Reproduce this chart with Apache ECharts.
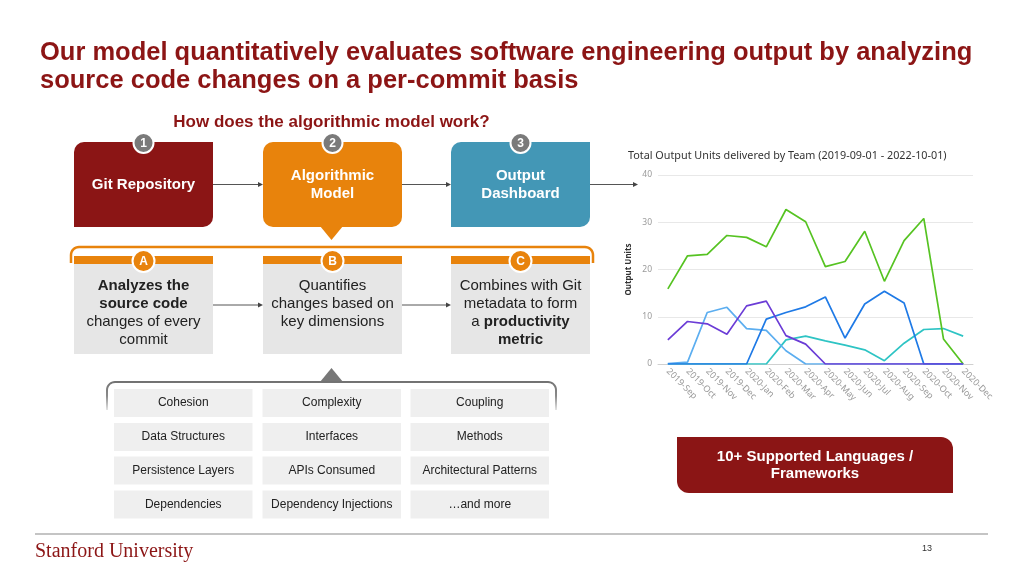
<!DOCTYPE html>
<html>
<head>
<meta charset="utf-8">
<script src="https://cdn.jsdelivr.net/npm/echarts@6/dist/echarts.min.js"></script>
<style>
html,body{margin:0;padding:0;background:#fff;}
#main{width:1024px;height:576px;}
</style>
</head>
<body>
<div id="main"></div>
<script>
// ---- Data ----
var months = ['2019-Sep','2019-Oct','2019-Nov','2019-Dec','2020-Jan','2020-Feb','2020-Mar','2020-Apr','2020-May','2020-Jun','2020-Jul','2020-Aug','2020-Sep','2020-Oct','2020-Nov','2020-Dec'];
var teamGreen = [15.9,22.9,23.2,27.2,26.8,24.8,32.7,30.1,20.6,21.7,28.1,17.5,26.1,30.8,5.3,0];
var teamBlue = [0,0,0,0,0,9.5,10.9,12.1,14.2,5.5,12.7,15.4,12.9,0,0,0];
var teamLightBlue = [0.1,0.4,10.9,12.0,7.5,7.1,2.8,0,0,0,0,0,0,0,0,0];
var teamPurple = [5.1,9.0,8.5,6.3,12.3,13.3,6.0,4.2,0,0,0,0,0,0,0,0];
var teamTeal = [0,0,0,0,0,0,5.1,5.9,4.9,4.0,3.0,0.7,4.4,7.3,7.5,5.9];
var yTicks = [0,10,20,30,40];

var slideTitle = ['Our model quantitatively evaluates software engineering output by analyzing','source code changes on a per-commit basis'];
var subTitle = 'How does the algorithmic model work?';
var stepLabels = [['Git Repository'],['Algorithmic','Model'],['Output','Dashboard']];
var dimensions = [['Cohesion','Complexity','Coupling'],['Data Structures','Interfaces','Methods'],['Persistence Layers','APIs Consumed','Architectural Patterns'],['Dependencies','Dependency Injections','\u2026and more']];

// ---- Graphics helpers ----
var SANS = 'Liberation Sans, Arial, sans-serif';
var RED = '#8b1515', ORANGE = '#e8830c', TEAL = '#4397b6';
var G = [];
function rect(x,y,w,h,fill,r){G.push({type:'rect',shape:{x:x,y:y,width:w,height:h,r:r||0},style:{fill:fill},silent:true});}
function txt(x,y,t,size,color,weight,align,family){G.push({type:'text',x:x,y:y,style:{text:t,fontSize:size,fill:color,fontWeight:weight||'normal',fontFamily:family||SANS,align:align||'center',verticalAlign:'middle'},silent:true});}
function rich(x,y,t,r){G.push({type:'text',x:x,y:y,style:{text:t,rich:r,align:'center',verticalAlign:'middle'},silent:true});}
function arrow(x1,x2,y){
  G.push({type:'line',shape:{x1:x1,y1:y,x2:x2-4,y2:y},style:{stroke:'#555',lineWidth:1},silent:true});
  G.push({type:'polygon',shape:{points:[[x2,y],[x2-5,y-2.5],[x2-5,y+2.5]]},style:{fill:'#444'},silent:true});
}
function badge(cx,cy,r,fill,t){
  G.push({type:'circle',shape:{cx:cx,cy:cy,r:r},style:{fill:fill,stroke:'#fff',lineWidth:2},silent:true});
  txt(cx,cy+0.5,t,12,'#fff','bold');
}
function arcPts(cx,cy,r,a0,a1){var p=[];for(var i=0;i<=8;i++){var a=a0+(a1-a0)*i/8;p.push([cx+r*Math.cos(a),cy+r*Math.sin(a)]);}return p;}
function bracket(x1,x2,yTop,yBot,r,stroke,lw){
  var pts=[[x1,yBot]];
  pts=pts.concat(arcPts(x1+r,yTop+r,r,Math.PI,1.5*Math.PI));
  pts=pts.concat(arcPts(x2-r,yTop+r,r,1.5*Math.PI,2*Math.PI));
  pts.push([x2,yBot]);
  G.push({type:'polyline',shape:{points:pts},style:{stroke:stroke,lineWidth:lw,fill:null},silent:true});
}

// Title
txt(40,53,slideTitle[0],25.5,'#8c1515','bold','left');
txt(40,81,slideTitle[1],25.5,'#8c1515','bold','left');
txt(331.5,122,subTitle,17,'#8c1515','bold');

// Top row boxes
var colX = [74,263,451], colW = 139;
rect(colX[0],142,colW,85,RED,[10,0,10,0]);
rect(colX[1],142,colW,85,ORANGE,[10,10,10,10]);
G.push({type:'polygon',shape:{points:[[320,226],[343,226],[331.5,240]]},style:{fill:ORANGE},silent:true});
rect(colX[2],142,colW,85,TEAL,[10,0,10,0]);
for (var i=0;i<3;i++){
  var cx = colX[i]+colW/2, lines = stepLabels[i];
  if (lines.length===1) txt(cx,185,lines[0],15,'#fff','bold');
  else { txt(cx,176,lines[0],15,'#fff','bold'); txt(cx,193.5,lines[1],15,'#fff','bold'); }
  badge(cx,143,10,'#7a7a7a',String(i+1));
}
arrow(213,263,184.5); arrow(402,451,184.5); arrow(590,638,184.5);

// Orange bracket & A/B/C cells
bracket(71,593,247,263,8,ORANGE,2.5);
var letters=['A','B','C'];
for (var j=0;j<3;j++){
  rect(colX[j],256,colW,8,ORANGE);
  rect(colX[j],264,colW,90,'#e6e6e6');
  badge(colX[j]+colW/2,261,11,ORANGE,letters[j]);
}
var rs = {n:{fontSize:15,fontFamily:SANS,fill:'#222'},b:{fontSize:15,fontFamily:SANS,fill:'#222',fontWeight:'bold'}};
var ca = colX[0]+colW/2, cb = colX[1]+colW/2, cc = colX[2]+colW/2;
rich(ca,286,'{b|Analyzes the}',rs); rich(ca,304,'{b|source code}',rs); rich(ca,322,'{n|changes of every}',rs); rich(ca,340,'{n|commit}',rs);
rich(cb,286,'{n|Quantifies}',rs); rich(cb,304,'{n|changes based on}',rs); rich(cb,322,'{n|key dimensions}',rs);
rich(cc,286,'{n|Combines with Git}',rs); rich(cc,304,'{n|metadata to form}',rs); rich(cc,322,'{n|a }{b|productivity}',rs); rich(cc,340,'{b|metric}',rs);
arrow(213,263,305); arrow(402,451,305);

// Gray bracket & dimension grid
G.push({type:'polygon',shape:{points:[[320,382],[343,382],[331.5,368]]},style:{fill:'#777'},silent:true});
G.push({type:'polyline',shape:{points:[[107,410]].concat(arcPts(115,390,8,Math.PI,1.5*Math.PI)).concat(arcPts(548,390,8,1.5*Math.PI,2*Math.PI)).concat([[556,410]])},
  style:{lineWidth:2,fill:null,stroke:{type:'linear',x:0,y:0,x2:0,y2:1,colorStops:[{offset:0,color:'#6f6f6f'},{offset:0.5,color:'#8a8a8a'},{offset:1,color:'rgba(140,140,140,0.1)'}]}},silent:true});
var gx=[114,262.5,410.5], gy=[389,423,456.5,490.5], gw=138.5, gh=28;
for (var r=0;r<4;r++) for (var c=0;c<3;c++){
  rect(gx[c],gy[r],gw,gh,'#efefef');
  txt(gx[c]+gw/2,gy[r]+gh/2,dimensions[r][c],12,'#222','normal');
}

// Right red box
rect(677,437,276,56,RED,[0,12,0,12]);
txt(815,457,'10+ Supported Languages /',15,'#fff','bold');
txt(815,474,'Frameworks',15,'#fff','bold');

// Footer
G.push({type:'line',shape:{x1:35,y1:534,x2:988,y2:534},style:{stroke:'#c4c4c4',lineWidth:2},silent:true});
txt(35,552,'Stanford University',20,'#8c1515','normal','left','Liberation Serif, DejaVu Serif, serif');
txt(927,549,'13',9,'#333','normal','center');

// ---- Chart ----
var chart = echarts.init(document.getElementById('main'));
function line(name,data,color){return {name:name,type:'line',data:data,symbol:'none',lineStyle:{width:1.7,color:color},itemStyle:{color:color}};}
chart.setOption({
  backgroundColor:'#fff',
  animation:false,
  title:{text:'Total Output Units delivered by Team (2019-09-01 - 2022-10-01)',left:628,top:150,padding:0,textStyle:{fontSize:10.8,fontWeight:'normal',color:'#333',fontFamily:'Noto Sans, Open Sans, sans-serif'}},
  grid:{left:658,right:51,top:175,bottom:212,containLabel:false},
  xAxis:{type:'category',data:months,boundaryGap:true,
    axisLine:{lineStyle:{color:'#d0d0d0'}},axisTick:{show:false},
    axisLabel:{rotate:-45,interval:0,fontSize:9,color:'#9a9a9a',margin:6,fontFamily:'Noto Sans, sans-serif'}},
  yAxis:{type:'value',min:yTicks[0],max:yTicks[yTicks.length-1],interval:10,
    name:'Output Units',nameLocation:'middle',nameGap:25,
    nameTextStyle:{fontSize:8,fontWeight:'bold',color:'#333',fontFamily:'Noto Sans, sans-serif'},
    axisLabel:{fontSize:8.5,color:'#9a9a9a',margin:6,fontFamily:'Noto Sans, sans-serif'},
    splitLine:{lineStyle:{color:'#e8e8e8'}},axisLine:{show:false},axisTick:{show:false}},
  series:[
    line('Team E',teamTeal,'#2ec4c4'),
    line('Team C',teamLightBlue,'#5caef0'),
    line('Team A',teamGreen,'#56c322'),
    line('Team B',teamBlue,'#1f7ae6'),
    line('Team D',teamPurple,'#6b3cd6')
  ],
  graphic:{elements:G}
});
</script>
</body>
</html>
